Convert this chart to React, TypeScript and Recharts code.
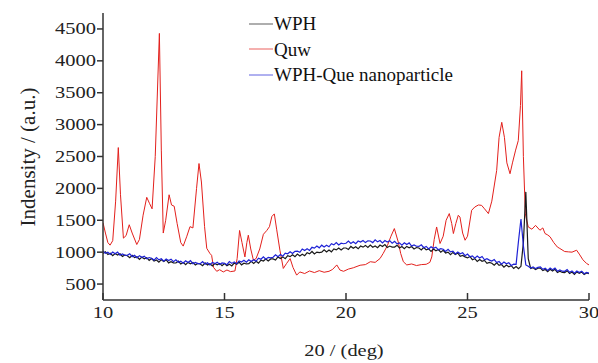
import React from "react";
import { LineChart, Line, XAxis, YAxis } from "recharts";

// XRD scan: 2θ from 10 to 30 deg, 0.1 deg step
const scanStart = 10;
const scanStep = 0.1;

const wphIntensity = [
  980, 1007, 962, 983, 945, 980, 956, 975, 934, 955,
  945, 914, 952, 914, 928, 888, 922, 896, 914, 872,
  900, 861, 878, 844, 882, 854, 881, 832, 851, 832,
  830, 859, 816, 839, 803, 840, 818, 839, 800, 823,
  815, 789, 832, 799, 818, 783, 822, 801, 824, 787,
  820, 788, 812, 785, 830, 809, 843, 801, 827, 815,
  820, 858, 824, 856, 829, 875, 862, 892, 862, 894,
  895, 876, 926, 900, 926, 898, 944, 930, 960, 930,
  970, 941, 968, 944, 992, 974, 1011, 972, 1001, 992,
  1000, 1037, 1002, 1033, 1005, 1050, 1036, 1065, 1034, 1065,
  1065, 1043, 1090, 1061, 1084, 1053, 1096, 1079, 1106, 1073,
  1110, 1076, 1098, 1069, 1112, 1089, 1120, 1074, 1096, 1080,
  1080, 1109, 1066, 1089, 1053, 1090, 1068, 1089, 1050, 1073,
  1065, 1035, 1074, 1037, 1052, 1013, 1048, 1023, 1042, 1001,
  1030, 987, 1000, 962, 996, 964, 987, 934, 949, 926,
  910, 932, 882, 898, 855, 885, 856, 870, 824, 840,
  827, 795, 832, 793, 806, 765, 798, 771, 788, 746,
  775, 740, 778, 1150, 1945, 900, 745, 755, 728, 748,
  750, 711, 728, 694, 732, 704, 731, 682, 701, 682,
  680, 709, 666, 689, 653, 690, 668, 689, 650, 673,
  662,
];

const nanoIntensity = [
  1020, 981, 998, 964, 1002, 974, 1001, 952, 971, 952,
  950, 976, 930, 950, 911, 945, 920, 938, 896, 916,
  905, 876, 916, 880, 896, 858, 894, 870, 890, 850,
  880, 842, 860, 827, 866, 839, 867, 819, 839, 821,
  820, 851, 810, 835, 801, 840, 820, 843, 806, 831,
  825, 804, 852, 824, 848, 818, 862, 846, 874, 842,
  880, 852, 880, 857, 906, 889, 927, 889, 919, 911,
  920, 960, 928, 962, 937, 985, 974, 1006, 978, 1012,
  1015, 998, 1050, 1026, 1054, 1028, 1076, 1064, 1096, 1068,
  1110, 1081, 1108, 1084, 1132, 1114, 1151, 1112, 1141, 1132,
  1140, 1174, 1136, 1164, 1133, 1175, 1158, 1184, 1150, 1178,
  1175, 1150, 1194, 1162, 1182, 1146, 1183, 1160, 1180, 1140,
  1170, 1130, 1146, 1111, 1148, 1119, 1145, 1095, 1113, 1093,
  1090, 1116, 1070, 1090, 1051, 1085, 1060, 1078, 1036, 1056,
  1045, 1011, 1046, 1005, 1016, 973, 1004, 975, 990, 945,
  970, 928, 942, 905, 940, 909, 933, 881, 897, 875,
  860, 884, 836, 854, 813, 845, 818, 834, 792, 812,
  810, 1180, 1520, 1100, 800, 778, 752, 770, 742, 762,
  770, 731, 748, 714, 752, 724, 751, 702, 721, 702,
  700, 728, 684, 706, 669, 705, 682, 702, 662, 684,
  672,
];

// Quw pattern, read peak by peak
const quwAngle = [
  10.0, 10.1, 10.2, 10.29, 10.4, 10.52, 10.63, 10.72, 10.84, 10.95,
  11.08, 11.2, 11.39, 11.5, 11.65, 11.8, 11.92, 12.02, 12.15, 12.32,
  12.4, 12.48, 12.58, 12.72, 12.82, 12.93, 13.05, 13.2, 13.3, 13.45,
  13.58, 13.7, 13.85, 13.95, 14.05, 14.18, 14.27, 14.4, 14.47, 14.55,
  14.68, 14.8, 14.95, 15.1, 15.25, 15.43, 15.52, 15.62, 15.72, 15.84,
  15.92, 15.98, 16.08, 16.19, 16.3, 16.45, 16.6, 16.74, 16.85, 16.95,
  17.05, 17.15, 17.28, 17.42, 17.55, 17.7, 17.82, 17.97, 18.1, 18.3,
  18.5, 18.7, 18.9, 19.1, 19.3, 19.45, 19.62, 19.75, 19.9, 20.1,
  20.3, 20.58, 20.8, 21.0, 21.2, 21.4, 21.53, 21.7, 21.85, 21.99,
  22.15, 22.25, 22.36, 22.5, 22.7, 22.9, 23.1, 23.3, 23.45, 23.53,
  23.63, 23.73, 23.87, 24.0, 24.12, 24.25, 24.35, 24.42, 24.52, 24.62,
  24.69, 24.8, 24.9, 25.0, 25.17, 25.3, 25.45, 25.58, 25.7, 25.86,
  26.0, 26.2, 26.3, 26.41, 26.52, 26.62, 26.75, 26.85, 26.98, 27.09,
  27.18, 27.23, 27.3, 27.38, 27.5, 27.65, 27.8, 27.98, 28.1, 28.19,
  28.3, 28.4, 28.55, 28.7, 28.8, 29.0, 29.15, 29.3, 29.49, 29.6,
  29.75, 29.9, 30.0,
];

const quwIntensity = [
  1460, 1300, 1150, 1110, 1180, 1800, 2640, 1900, 1220, 1260,
  1430, 1300, 1120, 1200, 1580, 1860, 1760, 1680, 2500, 4430,
  2600, 1300, 1500, 1900, 1740, 1720, 1450, 1150, 1095, 1250,
  1400, 1380, 2000, 2390, 2100, 1400, 1060, 980, 950, 760,
  700, 725, 690, 720, 695, 705, 900, 1340, 1150, 925,
  1150, 1266, 1050, 875, 900, 1050, 1280, 1340, 1400, 1560,
  1600, 1350, 1031, 745, 820, 900, 760, 640, 690, 665,
  705, 680, 710, 685, 700, 730, 800, 720, 700, 735,
  755, 795, 805, 850, 840, 900, 980, 1100, 1250, 1370,
  1160, 980, 850, 800, 815, 790, 805, 810, 840, 925,
  1200, 1395, 1136, 1250, 1500, 1605, 1450, 1292, 1450, 1578,
  1550, 1300, 1187, 1250, 1656, 1708, 1740, 1734, 1680, 1605,
  1800, 2281, 2800, 3036, 2800, 2400, 2230, 2400, 2600, 2750,
  3300, 3844, 2500, 1600, 1395, 1360, 1420, 1344, 1380, 1292,
  1270, 1240, 1150, 1080, 1058, 1010, 1005, 1000, 1031, 970,
  880, 823, 800,
];

const xTicks = [10, 15, 20, 25, 30];
const yTicks = [500, 1000, 1500, 2000, 2500, 3000, 3500, 4000, 4500];

const seriesNames = ["WPH", "Quw", "WPH-Que nanoparticle"];
const seriesColors = ["#1a1a1a", "#e3201c", "#1e22d6"];

const serif = "'Liberation Serif', 'Times New Roman', serif";

const scanAngle = (i: number) => Math.round((scanStart + i * scanStep) * 100) / 100;
const wphData = wphIntensity.map((v, i) => ({ angle: scanAngle(i), value: v }));
const nanoData = nanoIntensity.map((v, i) => ({ angle: scanAngle(i), value: v }));
const quwData = quwAngle.map((a, i) => ({ angle: a, value: quwIntensity[i] }));

const YTick = (props: any) => {
  const { x, y, payload } = props;
  return (
    <g transform={`translate(${x},${y})`}>
      <text
        transform="scale(1.28,1)"
        textAnchor="end"
        dy={5.5}
        style={{ fontFamily: serif, fontSize: 16, fill: "#222" }}
      >
        {payload.value}
      </text>
    </g>
  );
};

const XTick = (props: any) => {
  const { x, payload } = props;
  return (
    <g transform={`translate(${x},318)`}>
      <text
        transform="scale(1.28,1)"
        textAnchor="middle"
        style={{ fontFamily: serif, fontSize: 16, fill: "#222" }}
      >
        {payload.value}
      </text>
    </g>
  );
};

export default function App() {
  return (
    <div style={{ position: "fixed", left: 0, top: 0, width: 598, height: 363, background: "#fff" }}>
      <LineChart width={598} height={363} margin={{ top: 13, right: 9, left: 0, bottom: 0 }}>
        <XAxis
          type="number"
          dataKey="angle"
          domain={[10, 30]}
          ticks={xTicks}
          height={63}
          tickSize={-7}
          tick={<XTick />}
          stroke="#333"
          strokeWidth={1.5}
          allowDataOverflow
        />
        <YAxis
          type="number"
          dataKey="value"
          domain={[250, 4750]}
          ticks={yTicks}
          width={103}
          tickSize={6}
          tickMargin={1}
          tick={<YTick />}
          stroke="#333"
          strokeWidth={1.5}
          allowDataOverflow
        />
        <Line
          data={quwData}
          dataKey="value"
          name="Quw"
          stroke={seriesColors[1]}
          strokeWidth={1}
          dot={false}
          isAnimationActive={false}
        />
        <Line
          data={wphData}
          dataKey="value"
          name="WPH"
          stroke={seriesColors[0]}
          strokeWidth={1.2}
          dot={false}
          isAnimationActive={false}
        />
        <Line
          data={nanoData}
          dataKey="value"
          name="WPH-Que nanoparticle"
          stroke={seriesColors[2]}
          strokeWidth={1.2}
          dot={false}
          isAnimationActive={false}
        />
      </LineChart>
      <div style={{ position: "absolute", left: 249, top: 11, fontFamily: serif, fontSize: 19, color: "#111" }}>
        {seriesNames.map((name, i) => (
          <div key={name} style={{ display: "flex", alignItems: "center", height: 25.5 }}>
            <svg width={24} height={4} style={{ marginRight: 1 }}>
              <line x1={0} y1={2} x2={24} y2={2} stroke={seriesColors[i]} strokeWidth={1} opacity={0.7} />
            </svg>
            <span style={{ lineHeight: "25px", whiteSpace: "nowrap" }}>{name}</span>
          </div>
        ))}
      </div>
      <div
        style={{
          position: "absolute",
          left: 28,
          top: 157,
          transform: "translate(-50%,-50%) rotate(-90deg)",
          fontFamily: serif,
          fontSize: 21,
          whiteSpace: "nowrap",
          color: "#222",
        }}
      >
        Indensity / (a.u.)
      </div>
      <div
        style={{
          position: "absolute",
          left: 344,
          top: 351,
          transform: "translate(-50%,-50%) scaleX(1.2)",
          fontFamily: serif,
          fontSize: 17,
          whiteSpace: "nowrap",
          color: "#222",
        }}
      >
        20 / (deg)
      </div>
    </div>
  );
}
